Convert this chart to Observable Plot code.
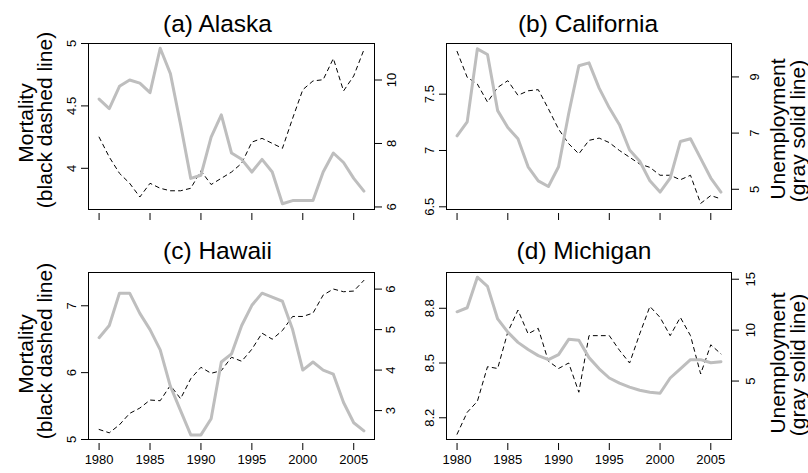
<!DOCTYPE html>
<html><head><meta charset="utf-8">
<script src="https://cdn.jsdelivr.net/npm/d3@7"></script>
<script src="https://cdn.jsdelivr.net/npm/@observablehq/plot@0.6"></script>
<style>
body{margin:0;background:#fff;font-family:"Liberation Sans",Arial,Helvetica,sans-serif;}
#fig{position:relative;width:808px;height:473px;overflow:hidden;background:#fff;}
#fig svg{position:absolute;overflow:visible;}
.t{position:absolute;white-space:nowrap;line-height:1;color:#000;transform:translate(-50%,-50%);}
.r{transform:translate(-50%,-50%) rotate(-90deg);}
</style></head><body><div id="fig"></div>
<script>
const years = [1980,1981,1982,1983,1984,1985,1986,1987,1988,1989,1990,1991,1992,1993,1994,1995,1996,1997,1998,1999,2000,2001,2002,2003,2004,2005,2006];
const xTicks = [1980,1985,1990,1995,2000,2005];

const alaskaMortality = [4.25,4.09,3.96,3.88,3.77,3.88,3.84,3.82,3.82,3.84,3.98,3.87,3.92,3.97,4.04,4.21,4.24,4.20,4.16,4.40,4.63,4.70,4.71,4.88,4.62,4.74,4.95];
const alaskaUnemployment = [9.4,9.1,9.8,10.0,9.9,9.6,11.0,10.2,8.6,6.9,7.0,8.2,8.9,7.7,7.5,7.1,7.5,7.1,6.1,6.2,6.2,6.2,7.1,7.7,7.4,6.9,6.5];

const californiaMortality = [7.88,7.65,7.59,7.43,7.56,7.62,7.49,7.53,7.54,7.37,7.19,7.06,6.97,7.09,7.11,7.07,7.00,6.94,6.88,6.85,6.78,6.78,6.74,6.78,6.53,6.60,6.57];
const californiaUnemployment = [6.9,7.4,10.0,9.8,7.8,7.2,6.8,5.8,5.3,5.1,5.8,7.7,9.4,9.5,8.6,7.9,7.3,6.4,6.0,5.3,4.9,5.4,6.7,6.8,6.1,5.4,4.9];

const hawaiiMortality = [5.15,5.10,5.22,5.39,5.47,5.59,5.58,5.81,5.61,5.91,6.08,5.99,6.03,6.23,6.17,6.35,6.59,6.50,6.63,6.84,6.84,6.89,7.16,7.25,7.21,7.22,7.38];
const hawaiiUnemployment = [4.8,5.1,5.9,5.9,5.4,5.0,4.5,3.6,3.0,2.4,2.4,2.8,4.2,4.4,5.1,5.6,5.9,5.8,5.7,5.0,4.0,4.2,4.0,3.9,3.2,2.7,2.5];

const michiganMortality = [8.11,8.23,8.29,8.48,8.47,8.67,8.79,8.66,8.69,8.51,8.47,8.50,8.34,8.65,8.65,8.65,8.57,8.50,8.66,8.81,8.75,8.65,8.75,8.65,8.44,8.60,8.55];
const michiganUnemployment = [11.8,12.2,15.2,14.3,11.1,9.8,8.8,8.1,7.5,7.1,7.6,9.1,9.0,7.3,6.2,5.3,4.8,4.4,4.1,3.9,3.8,5.3,6.2,7.1,7.1,6.8,6.9];

const panelTitles = ["(a) Alaska","(b) California","(c) Hawaii","(d) Michigan"];
const leftTicks = [[4,4.5,5],[6.5,7,7.5],[5,6,7],[8.2,8.5,8.8]];
const rightTicks = [[6,8,10],[5,7,9],[3,4,5,6],[5,10,15]];

const panels = [
  {title: panelTitles[0], mort: alaskaMortality, unemp: alaskaUnemployment, lt: leftTicks[0], rt: rightTicks[0],
   ld: [3.67, 5.0], rd: [5.92, 11.15], col: 0, row: 0, tx: 217.5, rp: 5},
  {title: panelTitles[1], mort: californiaMortality, unemp: californiaUnemployment, lt: leftTicks[1], rt: rightTicks[1],
   ld: [6.476, 7.95], rd: [4.28, 10.19], col: 1, row: 0, tx: 588, rp: 11},
  {title: panelTitles[2], mort: hawaiiMortality, unemp: hawaiiUnemployment, lt: leftTicks[2], rt: rightTicks[2],
   ld: [5.0, 7.4975], rd: [2.286, 6.41], col: 0, row: 1, tx: 217.5, rp: 4},
  {title: panelTitles[3], mort: michiganMortality, unemp: michiganUnemployment, lt: leftTicks[3], rt: rightTicks[3],
   ld: [8.081, 8.996], rd: [-0.74, 15.66], col: 1, row: 1, tx: 584, rp: 7}
];

const fig = document.getElementById("fig");
const font = '"Liberation Sans", Arial, Helvetica, sans-serif';
const fmt = d => String(d);

function addText(txt, x, y, size, rotate) {
  const d = document.createElement("div");
  d.className = "t" + (rotate ? " r" : "");
  d.textContent = txt;
  d.style.left = x + "px";
  d.style.top = y + "px";
  d.style.fontSize = size + "px";
  fig.appendChild(d);
}

for (const p of panels) {
  const rows = years.map((yr, i) => ({year: yr, m: p.mort[i], u: p.unemp[i]}));
  const left = p.col === 0 ? 0 : 404;
  const top = p.row === 0 ? 0 : 236;
  const geo = p.row === 0 ? {height: 236, marginTop: 43, marginBottom: 27} : {height: 237, marginTop: 272 - 236, marginBottom: 473 - 439};
  const hm = p.col === 0 ? {marginLeft: 88, marginRight: 30} : {marginLeft: 42, marginRight: 77};
  const common = {
    width: 404, ...geo, ...hm,
    style: {fontFamily: font, fontSize: "13px", background: "transparent", color: "#000"}
  };
  const plotM = Plot.plot({
    ...common,
    x: {domain: [1978.96, 2007.04]},
    y: {domain: p.ld},
    marks: [
      Plot.lineY(rows, {x: "year", y: "m", stroke: "#000", strokeWidth: 1, strokeDasharray: "4,4"}),
      Plot.frame({stroke: "#000", strokeWidth: 1}),
      Plot.axisY({ticks: p.lt, tickFormat: fmt, anchor: "left", tickSize: 7, tickPadding: 6, tickRotate: -90, label: null, fontSize: 13}),
      Plot.axisX({ticks: xTicks, anchor: "bottom", dy: 4, tickSize: 7, tickPadding: 4, label: null, fontSize: 13,
        tickFormat: p.row === 1 ? fmt : (() => "")})
    ]
  });
  const plotU = Plot.plot({
    ...common,
    x: {domain: [1978.96, 2007.04], axis: null},
    y: {domain: p.rd},
    marks: [
      Plot.lineY(rows, {x: "year", y: "u", stroke: "#bebebe", strokeWidth: 3, strokeLinejoin: "round"}),
      Plot.axisY({ticks: p.rt, tickFormat: fmt, anchor: "right", tickSize: 7, tickPadding: p.rp, tickRotate: -90, lineAnchor: "top", label: null, fontSize: 13})
    ]
  });
  for (const s of [plotM, plotU]) {
    s.style.left = left + "px";
    s.style.top = top + "px";
    fig.appendChild(s);
  }
  const titleY = p.row === 0 ? 24 : 251;
  addText(p.title, p.tx, titleY, 24.5, false);
  if (p.col === 0) {
    const cy = p.row === 0 ? 120 : 351;
    addText("Mortality", 25, cy + 3, 21, true);
    addText("(black dashed line)", 44, cy, 21, true);
  } else {
    const cy = p.row === 0 ? 129 : 363;
    addText("Unemployment", 777, cy, 21, true);
    addText("(gray solid line)", 797, cy + 2, 21, true);
  }
}
</script></body></html>
